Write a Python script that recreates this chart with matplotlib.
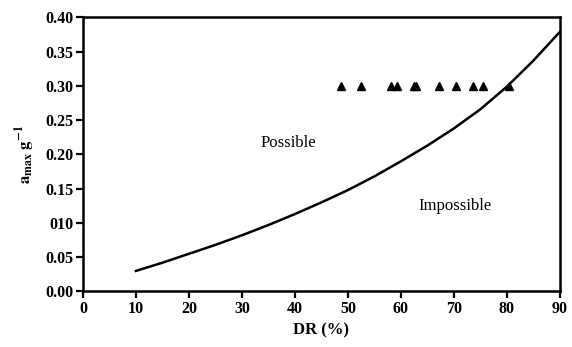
import matplotlib
matplotlib.use('Agg')
import matplotlib.pyplot as plt

# boundary curve
curve_dr = [10, 15, 20, 25, 30, 35, 40, 45, 50, 55, 60, 65, 70, 75, 80, 85, 90]
curve_a = [0.030, 0.042, 0.055, 0.068, 0.082, 0.097, 0.113, 0.130, 0.148,
           0.168, 0.190, 0.213, 0.238, 0.266, 0.299, 0.337, 0.379]

# observed cases
obs_dr = [48.6, 52.4, 58.2, 59.3, 62.5, 62.9, 67.2, 70.4, 73.6, 75.5, 80.4]
obs_a = [0.30] * len(obs_dr)

xticks = list(range(0, 91, 10))
yticks = [0.00, 0.05, 0.10, 0.15, 0.20, 0.25, 0.30, 0.35, 0.40]
ytick_labels = ['0.00', '0.05', '010', '0.15', '0.20', '0.25', '0.30', '0.35', '0.40']

plt.rcParams['font.family'] = ['Liberation Serif', 'DejaVu Serif']
plt.rcParams['mathtext.fontset'] = 'stix'

fig = plt.figure(figsize=(5.72, 3.47), dpi=100)
ax = fig.add_axes([0.145, 0.16, 0.834, 0.79])

ax.plot(curve_dr, curve_a, color='black', lw=1.8, solid_joinstyle='round')
ax.plot(obs_dr, obs_a, linestyle='none', marker='^', color='black', markersize=5.5)

ax.text(38.7, 0.217, 'Possible', ha='center', va='center', fontsize=12)
ax.text(70.2, 0.125, 'Impossible', ha='center', va='center', fontsize=12)

ax.set_xlim(0, 90)
ax.set_ylim(0, 0.40)
ax.set_xticks(xticks)
ax.set_xticklabels([str(t) for t in xticks], fontsize=11.5, fontweight='bold')
ax.set_yticks(yticks)
ax.set_yticklabels(ytick_labels, fontsize=11.5, fontweight='bold')
ax.tick_params(direction='out', length=5, width=1.6, pad=2)
for s in ax.spines.values():
    s.set_linewidth(1.8)

ax.set_xlabel('DR (%)', fontsize=12, fontweight='bold', labelpad=4)
ax.set_ylabel(r'$\mathbf{a_{max}\ g^{-1}}$', fontsize=12, labelpad=6)

fig.savefig('out.png', dpi=100)
